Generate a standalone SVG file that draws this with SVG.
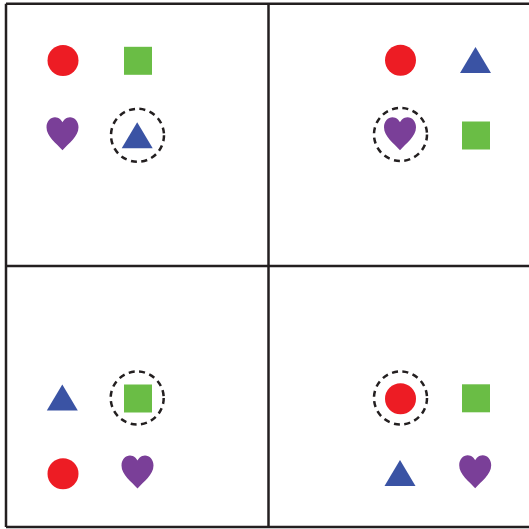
<svg xmlns="http://www.w3.org/2000/svg" xmlns:xlink="http://www.w3.org/1999/xlink" width="529" height="529" viewBox="0 0 529 529">
<style>
.frame{stroke:#231f20;stroke-width:2.5;fill:none}
.red{fill:#ed1c24}
.green{fill:#6abd45}
.blue{fill:#3a53a4}
.purple{fill:#7a3f98}
.ring{fill:none;stroke:#231f20;stroke-width:2.5;stroke-dasharray:6 4.5}
</style>
<defs>
<circle id="dot" r="15.5"/>
<rect id="sq" x="-14" y="-14" width="28" height="28"/>
<polygon id="tri" points="-15.5,13 15.5,13 0,-13"/>
<path id="heart" d="M0,16.5 C-6,9.5 -16,3 -16,-6.5 C-16,-12.5 -12,-16.5 -7.5,-16.5 C-3.5,-16.5 -1,-13.5 0,-11.5 C1,-13.5 3.5,-16.5 7.5,-16.5 C12,-16.5 16,-12.5 16,-6.5 C16,3 6,9.5 0,16.5 Z"/>
<circle id="ring" r="26.5"/>
</defs>
<rect width="529" height="529" fill="#fff"/>
<g id="frame">
<line class="frame" x1="6" y1="3.7" x2="529" y2="3.7"/>
<line class="frame" x1="6" y1="3.7" x2="6" y2="527"/>
<line class="frame" x1="6" y1="527" x2="529" y2="527"/>
<line class="frame" x1="268.5" y1="3.7" x2="268.5" y2="527"/>
<line class="frame" x1="6" y1="266" x2="529" y2="266"/>
</g>
<g id="panel-tl">
<g id="tl-circle"><use xlink:href="#dot" class="red" x="63" y="60.5"/></g>
<g id="tl-square"><use xlink:href="#sq" class="green" x="138" y="60.8"/></g>
<g id="tl-heart"><use xlink:href="#heart" class="purple" x="62.5" y="133.7"/></g>
<g id="tl-triangle"><use xlink:href="#tri" class="blue" x="137.2" y="135.3"/><use xlink:href="#ring" class="ring" x="137.5" y="135.3"/></g>
</g>
<g id="panel-tr">
<g id="tr-circle"><use xlink:href="#dot" class="red" x="400.5" y="60.3"/></g>
<g id="tr-triangle"><use xlink:href="#tri" class="blue" x="475.5" y="60"/></g>
<g id="tr-heart"><use xlink:href="#heart" class="purple" x="400" y="133.7"/><use xlink:href="#ring" class="ring" x="400.5" y="134.5"/></g>
<g id="tr-square"><use xlink:href="#sq" class="green" x="476" y="135.5"/></g>
</g>
<g id="panel-bl">
<g id="bl-triangle"><use xlink:href="#tri" class="blue" x="62.3" y="397.5"/></g>
<g id="bl-square"><use xlink:href="#sq" class="green" x="138" y="398.5"/><use xlink:href="#ring" class="ring" x="137.2" y="398"/></g>
<g id="bl-circle"><use xlink:href="#dot" class="red" x="63" y="473.7"/></g>
<g id="bl-heart"><use xlink:href="#heart" class="purple" x="137.5" y="472"/></g>
</g>
<g id="panel-br">
<g id="br-circle"><use xlink:href="#dot" class="red" x="400.5" y="398.7"/><use xlink:href="#ring" class="ring" x="400.5" y="398"/></g>
<g id="br-square"><use xlink:href="#sq" class="green" x="476" y="398.3"/></g>
<g id="br-triangle"><use xlink:href="#tri" class="blue" x="400" y="473"/></g>
<g id="br-heart"><use xlink:href="#heart" class="purple" x="475.2" y="471.7"/></g>
</g>
</svg>
